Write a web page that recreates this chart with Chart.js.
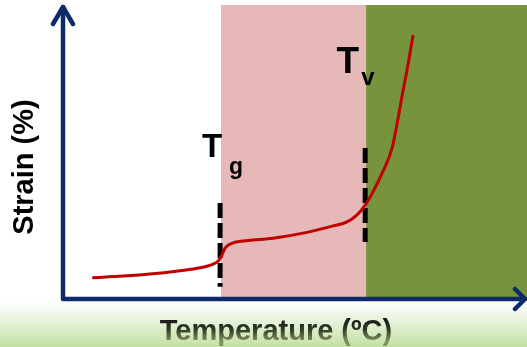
<!DOCTYPE html>
<html>
<head>
<meta charset="utf-8">
<title>Strain vs temperature</title>
<script src="https://cdn.jsdelivr.net/npm/chart.js@4"></script>
<style>
  html, body { margin: 0; padding: 0; background: #fff; }
  canvas { display: block; }
</style>
</head>
<body>
<canvas id="strainChart" width="527" height="347"></canvas>
<script>
// --- data (arbitrary units, both axes 0..100) ---
const temperature = [6.5, 11.0, 18.3, 25.4, 29.7, 32.5, 33.6, 34.4, 35.1, 36.8, 40.0, 45.4,
                     52.7, 58.3, 61.3, 63.4, 65.2, 66.9, 69.0, 71.0, 72.0, 73.3, 74.4, 75.5];
const strain = [6.9, 7.3, 8.1, 9.3, 10.3, 11.6, 12.6, 14.7, 17.1, 18.8, 19.6, 20.4,
                22.4, 24.6, 26.0, 28.3, 31.7, 36.3, 43.1, 51.2, 59.0, 70.4, 79.5, 89.8];

// transition temperatures and the span of their dashed markers
const transitionNames = ['g', 'v'];
const transitionTemps = [34.0, 65.2];
const markerTop = [32.4, 51.2];
const markerBottom = [3.8, 19.1];

// shaded phase bands (start, end) along the temperature axis
const bandStart = [34.2, 65.4];
const bandEnd = [65.4, 100];

const axisTitleX = 'Temperature (ºC)';
const axisTitleY = 'Strain (%)';

const curve = temperature.map((t, i) => ({ x: t, y: strain[i] }));

const markerSets = transitionTemps.map((t, i) => ({
    data: [{ x: t, y: markerTop[i] }, { x: t, y: markerBottom[i] }],
    borderColor: '#000',
    borderWidth: 5,
    borderDash: [15, 5],
    borderCapStyle: 'butt',
    pointRadius: 0,
    fill: false
}));

const FONT = '"Liberation Sans", Arial, sans-serif';
const NAVY = '#0f2a6b';
const bandColors = ['#e6b9b8', '#77933c'];

// background, bands, axes with arrows and all the text
const decor = {
    id: 'decor',
    beforeDraw(chart) {
        const c = chart.ctx;
        const { x, y } = chart.scales;
        c.save();
        c.fillStyle = '#fff';
        c.fillRect(0, 0, chart.width, chart.height);
        const g = c.createLinearGradient(0, 302, 0, chart.height);
        g.addColorStop(0, '#ffffff');
        g.addColorStop(1, '#c3e1a3');
        c.fillStyle = g;
        c.fillRect(0, 302, chart.width, chart.height - 302);

        bandStart.forEach((s, i) => {
            const x0 = x.getPixelForValue(s);
            const x1 = x.getPixelForValue(bandEnd[i]);
            c.fillStyle = bandColors[i];
            c.fillRect(x0, y.getPixelForValue(100), x1 - x0 + 1, y.getPixelForValue(0) - y.getPixelForValue(100));
        });
        c.restore();
    },
    afterDatasetsDraw(chart) {
        const c = chart.ctx;
        const { x, y } = chart.scales;
        const left = x.getPixelForValue(0) + 1;
        const bottom = y.getPixelForValue(0) + 1;
        c.save();

        // axes
        c.strokeStyle = NAVY;
        c.lineWidth = 4.5;
        c.lineCap = 'round';
        c.lineJoin = 'round';
        c.beginPath();
        c.moveTo(left, 7);
        c.lineTo(left, bottom);
        c.lineTo(chart.width - 2, bottom);
        c.stroke();
        // arrow heads
        c.beginPath();
        c.moveTo(left - 10, 24);
        c.lineTo(left, 7);
        c.lineTo(left + 10, 24);
        c.moveTo(chart.width - 12, bottom - 10);
        c.lineTo(chart.width - 2, bottom);
        c.lineTo(chart.width - 12, bottom + 10);
        c.stroke();

        // transition labels
        c.fillStyle = '#000';
        c.textBaseline = 'alphabetic';
        const tg = x.getPixelForValue(transitionTemps[0]);
        c.font = 'bold 33px ' + FONT;
        c.textAlign = 'right';
        c.fillText('T', tg + 2, 157);
        c.font = 'bold 23px ' + FONT;
        c.textAlign = 'left';
        c.fillText(transitionNames[0], tg + 9, 174);

        const tv = x.getPixelForValue(transitionTemps[1]);
        c.font = 'bold 37px ' + FONT;
        c.textAlign = 'right';
        c.fillText('T', tv - 6, 73);
        c.font = 'bold 24px ' + FONT;
        c.textAlign = 'left';
        c.fillText(transitionNames[1], tv - 4, 85);

        // axis titles
        c.font = 'bold 29px ' + FONT;
        c.textAlign = 'center';
        const tg2 = c.createLinearGradient(0, 318, 0, 341);
        tg2.addColorStop(0, '#151515');
        tg2.addColorStop(0.5, '#333a2a');
        tg2.addColorStop(1, '#7d925c');
        c.fillStyle = tg2;
        c.fillText(axisTitleX, 276, 340);

        c.fillStyle = '#000';
        c.translate(33, 167);
        c.rotate(-Math.PI / 2);
        c.fillText(axisTitleY, 0, 0);
        c.restore();
    }
};

new Chart(document.getElementById('strainChart'), {
    type: 'line',
    data: {
        datasets: [
            {
                data: curve,
                borderColor: '#c00000',
                borderWidth: 3,
                pointRadius: 0,
                cubicInterpolationMode: 'monotone',
                fill: false
            },
            ...markerSets
        ]
    },
    options: {
        responsive: false,
        animation: false,
        layout: { padding: { left: 62, right: 0, top: 5, bottom: 49 } },
        plugins: {
            legend: { display: false },
            tooltip: { enabled: false }
        },
        scales: {
            x: { type: 'linear', min: 0, max: 100, display: false },
            y: { type: 'linear', min: 0, max: 100, display: false }
        }
    },
    plugins: [decor]
});
</script>
</body>
</html>
